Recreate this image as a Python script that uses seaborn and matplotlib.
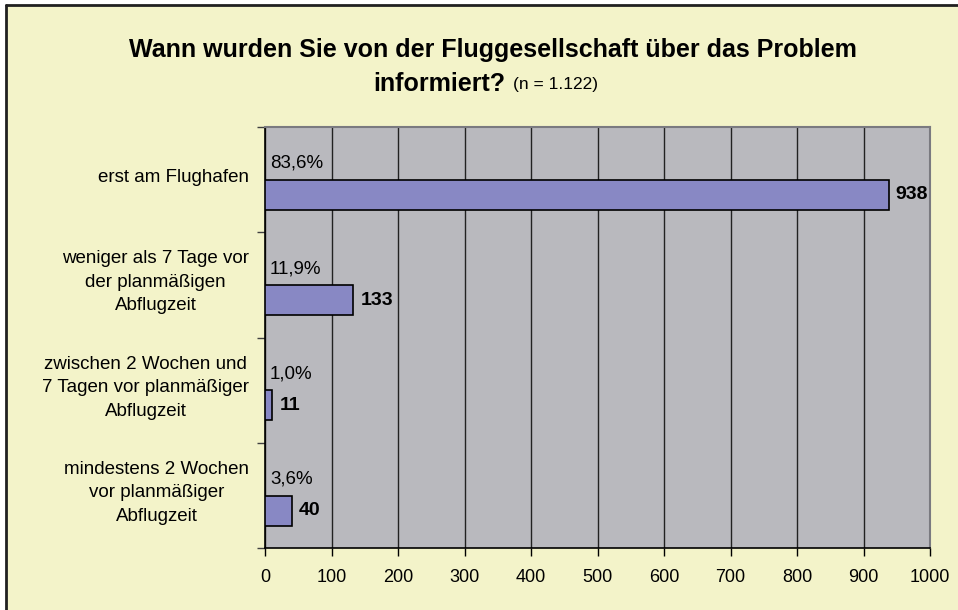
import matplotlib
matplotlib.use("Agg")
import matplotlib.pyplot as plt
import seaborn as sns
import pandas as pd
from matplotlib.patches import Rectangle
from matplotlib.lines import Line2D

# data
categories = [
    "erst am Flughafen",
    "weniger als 7 Tage vor\nder planmäßigen\nAbflugzeit",
    "zwischen 2 Wochen und\n7 Tagen vor planmäßiger\nAbflugzeit",
    "mindestens 2 Wochen\nvor planmäßiger\nAbflugzeit",
]
counts = [938, 133, 11, 40]
percents = ["83,6%", "11,9%", "1,0%", "3,6%"]
x_ticks = [0, 100, 200, 300, 400, 500, 600, 700, 800, 900, 1000]

BG_YELLOW = "#F3F3C9"
PLOT_GRAY = "#B9B9BE"
BAR_BLUE = "#8888C4"

W, H = 958, 610
sns.set_theme(style="white")
plt.rcParams["font.family"] = ["Liberation Sans", "DejaVu Sans"]
plt.rcParams["text.color"] = "black"

fig = plt.figure(figsize=(W / 100, H / 100), dpi=100)
fig.patch.set_facecolor("white")

# yellow chart area with a dark frame on top and left
fig.patches.append(Rectangle((6 / W, 0), 1, 1 - 5 / H, transform=fig.transFigure,
                             facecolor=BG_YELLOW, edgecolor="none", zorder=-10))
fig.lines.append(Line2D([6 / W, 1], [1 - 5 / H, 1 - 5 / H], transform=fig.transFigure,
                        color="#202020", linewidth=2))
fig.lines.append(Line2D([6 / W, 6 / W], [0, 1 - 5 / H], transform=fig.transFigure,
                        color="#202020", linewidth=2))

left, right, top, bottom = 265, 930, 127, 548
ax = fig.add_axes([left / W, 1 - bottom / H, (right - left) / W, (bottom - top) / H])
ax.set_facecolor(PLOT_GRAY)

df = pd.DataFrame({"category": categories, "count": counts})
sns.barplot(data=df, x="count", y="category", orient="h", color=BAR_BLUE,
            saturation=1, width=0.285, edgecolor="black", linewidth=1.2, ax=ax, zorder=3)

ax.set_xlim(0, 1000)
ax.set_ylim(3.354, -0.646)
ax.set_xticks(x_ticks)
ax.set_xticklabels([str(t) for t in x_ticks], fontsize=13, color="black")
ax.set_yticks([-0.646 + k for k in range(5)])
ax.set_yticklabels([])
ax.tick_params(axis="x", bottom=True, direction="out", length=6, width=1, color="black", pad=9)
ax.tick_params(axis="y", left=True, direction="out", length=6, width=1, color="#404040")
ax.set_xlabel("")
ax.set_ylabel("")

ax.grid(axis="x", color="#222222", linewidth=1, zorder=0)
ax.grid(axis="y", visible=False)
ax.set_axisbelow(True)
for side in ["left", "bottom"]:
    ax.spines[side].set_color("black")
    ax.spines[side].set_linewidth(1.2)
for side in ["top", "right"]:
    ax.spines[side].set_color("#7A7A80")
    ax.spines[side].set_linewidth(1.5)

for i, (cat, val, pct) in enumerate(zip(categories, counts, percents)):
    ax.annotate(str(val), xy=(val, i), xytext=(7, 0), textcoords="offset pixels",
                ha="left", va="center", fontsize=14, fontweight="bold", color="black")
    ax.annotate(pct, xy=(0, i - 0.30), xytext=(5, 0), textcoords="offset pixels",
                ha="left", va="center", fontsize=13.5, color="black")
    ax.annotate(cat, xy=(0, i - 0.17), xycoords=("axes fraction", "data"),
                xytext=(-16, 0), textcoords="offset pixels", ha="right", va="center",
                multialignment="center", fontsize=13.5, color="black", linespacing=1.5)

fig.text(493 / W, 1 - 50 / H, "Wann wurden Sie von der Fluggesellschaft über das Problem",
         ha="center", va="center", fontsize=18, fontweight="bold", color="black")
fig.text(505 / W, 1 - 84 / H, "informiert?", ha="right", va="center",
         fontsize=18, fontweight="bold", color="black")
fig.text(513 / W, 1 - 84 / H, "(n = 1.122)", ha="left", va="center", fontsize=12.5,
         color="black")

fig.savefig("out.png", dpi=100, facecolor=fig.get_facecolor())
